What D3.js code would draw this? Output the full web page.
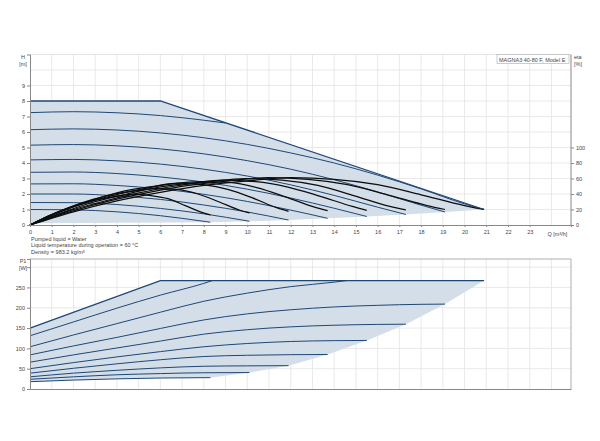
<!DOCTYPE html>
<html>
<head>
<meta charset="utf-8">
<script src="https://cdn.jsdelivr.net/npm/d3@7"></script>
<style>
  body { margin: 0; background: #fff; }
  svg text { font-family: "Liberation Sans", Arial, sans-serif; fill: #444; }
</style>
</head>
<body>
<svg></svg>
<script>
// Chart values
let title = 'MAGNA3 40-80 F, Model E';
let notes = ['Pumped liquid = Water', 'Liquid temperature during operation = 60 °C', 'Density = 983.2 kg/m³'];

let qTicks = d3.range(0, 24);
let hTicks = d3.range(0, 10);
let etaTicks = [0, 20, 40, 60, 80, 100];
let pTicks = [0, 50, 100, 150, 200, 250, 300];

// head curves, [Q m3/h, H m]
let headMax = [[0, 8], [6, 8], [20.9, 1.0]];
let headCurves = [
  [[0, 1.0], [2, 0.98], [4, 0.85], [6, 0.6], [7, 0.43], [8.3, 0.18]],
  [[0, 1.45], [2, 1.44], [4, 1.32], [6, 1.07], [8, 0.72], [10.1, 0.24]],
  [[0, 2.0], [2, 2.0], [4, 1.88], [6, 1.65], [8, 1.29], [10, 0.84], [11.9, 0.32]],
  [[0, 2.65], [2, 2.66], [4, 2.55], [6, 2.33], [8, 1.98], [10, 1.52], [12, 0.96], [13.7, 0.43]],
  [[0, 3.4], [2, 3.42], [4, 3.32], [6, 3.1], [8, 2.77], [10, 2.31], [12, 1.74], [14, 1.08], [15.5, 0.55]],
  [[0, 4.2], [2, 4.23], [4, 4.14], [6, 3.93], [8, 3.6], [10, 3.16], [12, 2.59], [14, 1.91], [16, 1.15], [17.3, 0.68]],
  [[0, 5.15], [2, 5.19], [4, 5.11], [6, 4.91], [8, 4.59], [10, 4.15], [12, 3.6], [14, 2.92], [16, 2.13], [18, 1.28], [19.1, 0.84]],
  [[0, 6.15], [2, 6.2], [4, 6.13], [6, 5.94], [8, 5.63], [10, 5.2], [12, 4.65], [14, 4.0], [16, 3.22], [18, 2.33], [20, 1.36], [20.9, 1.0]],
  [[0, 7.25], [2, 7.31], [4, 7.24], [6, 7.06], [8, 6.76], [9, 6.58]]
];
// lower edge of the head area, right to left
let headLowerEdge = [[20.9, 1.0], [19.1, 0.84], [17.3, 0.68], [15.5, 0.55], [13.7, 0.43], [11.9, 0.32], [10.1, 0.24], [8.3, 0.18], [4, 0.14], [0, 0.12]];

// efficiency curves, [Q m3/h, eta %]
let etaCurves = [
  [[0, 0], [0.79, 11], [1.59, 20], [2.38, 27], [3.18, 33], [3.97, 37], [4.76, 40], [5.56, 38], [6.35, 34], [7.15, 25], [7.94, 16], [8.3, 13]],
  [[0, 0], [0.97, 13], [1.93, 24], [2.9, 33], [3.86, 40], [4.83, 44], [5.8, 47], [6.76, 46], [7.73, 40], [8.69, 30], [9.66, 19], [10.1, 15.5]],
  [[0, 0], [1.14, 15], [2.28, 27], [3.42, 37], [4.55, 45], [5.69, 50], [6.83, 54], [7.97, 52], [9.1, 46], [10.24, 35], [11.38, 22], [11.9, 17.7]],
  [[0, 0], [1.31, 16], [2.62, 29], [3.93, 39], [5.24, 47], [6.55, 53], [7.86, 56], [9.17, 55], [10.48, 48], [11.79, 36], [13.1, 23], [13.7, 18.5]],
  [[0, 0], [1.48, 16], [2.97, 30], [4.45, 40], [5.94, 49], [7.42, 54], [8.9, 58], [10.39, 56], [11.87, 49], [13.36, 37], [14.84, 24], [15.5, 19]],
  [[0, 0], [1.66, 17], [3.31, 30], [4.97, 41], [6.62, 50], [8.28, 56], [9.93, 60], [11.59, 58], [13.25, 51], [14.9, 38], [16.56, 24], [17.3, 19.5]],
  [[0, 0], [1.83, 17], [3.66, 31], [5.48, 42], [7.31, 51], [9.14, 57], [10.97, 61], [12.8, 59], [14.62, 52], [16.45, 39], [18.28, 25], [19.1, 20]],
  [[0, 0], [2, 17], [4, 31], [6, 42], [8, 51], [10, 57], [12, 61], [14, 59], [16, 52], [18, 39], [20, 25], [20.9, 20]]
];

// power curves, [Q m3/h, P1 W]
let powerMax = [[0, 150], [6, 267], [20.9, 267]];
let powerCurves = [
  [[0, 18], [2, 22], [4, 25], [6, 27], [8.3, 28]],
  [[0, 24], [2, 30], [4, 35], [6, 38], [8, 40], [10.1, 40.5]],
  [[0, 30], [2, 39], [4, 46], [6, 52], [8, 56], [10, 57], [11.9, 57.5]],
  [[0, 39], [2, 51], [4, 62], [6, 72], [8, 80], [10, 83], [12, 84.5], [13.7, 85]],
  [[0, 50], [2, 65], [4, 79], [6, 92], [8, 104], [10, 112], [12, 117], [14, 119], [15.5, 119.5]],
  [[0, 66], [2, 84], [4, 101], [6, 118], [8, 135], [10, 146], [12, 153], [14, 157], [16, 159], [17.3, 159.5]],
  [[0, 84], [2, 106], [4, 127], [6, 149], [8, 170], [10, 185], [12, 195], [14, 202], [16, 206], [18, 208.5], [19.1, 209]],
  [[0, 104], [2, 133], [4, 161], [6, 189], [8, 216], [10, 236], [12, 252], [14, 263], [14.6, 267]],
  [[0, 131], [2, 165], [4, 199], [6, 231], [8, 260], [8.4, 267]]
];
let powerLowerEdge = [[20.9, 267], [19.1, 209], [17.3, 159.5], [15.5, 119.5], [13.7, 85], [11.9, 57.5], [10.1, 40.5], [8.3, 28], [6, 27], [4, 25], [2, 22], [0, 18]];

// Layout
let width = 600, height = 441;
let svg = d3.select('svg').attr('width', width).attr('height', height);

let x = d3.scaleLinear().domain([0, 24.9]).range([30, 571]);
let yH = d3.scaleLinear().domain([0, 11]).range([225, 54.5]);
let yEta = d3.scaleLinear().domain([0, 100]).range([225, 147.5]);
let yP = d3.scaleLinear().domain([0, 320]).range([389, 259]);

let fillColor = '#d3dee9';
let blue = '#1f4775';

function grid(g, yScale, yValues, top, bottom) {
  g.selectAll('.vg').data(d3.range(1, 25)).enter().append('line')
    .attr('x1', d => x(d)).attr('x2', d => x(d))
    .attr('y1', top).attr('y2', bottom)
    .attr('stroke', '#e3e3e3').attr('stroke-width', 0.8);
  g.selectAll('.hg').data(yValues).enter().append('line')
    .attr('x1', x(0)).attr('x2', x(24.9))
    .attr('y1', d => yScale(d)).attr('y2', d => yScale(d))
    .attr('stroke', '#e3e3e3').attr('stroke-width', 0.8);
}

function styleAxis(g) {
  g.selectAll('path.domain').attr('stroke', '#888');
  g.selectAll('.tick line').attr('stroke', '#888');
  g.selectAll('.tick text').attr('font-size', 5.5).attr('fill', '#555');
}

function drawHeadChart() {
  let g = svg.append('g');
  grid(g, yH, d3.range(1, 11), 54.5, 225);
  // top border
  g.append('line').attr('x1', x(0)).attr('x2', x(24.9)).attr('y1', 54.5).attr('y2', 54.5)
    .attr('stroke', '#ddd').attr('stroke-width', 0.8);

  let line = d3.line().x(d => x(d[0])).y(d => yH(d[1])).curve(d3.curveMonotoneX);
  let area = headMax.concat(headLowerEdge);
  g.append('path')
    .attr('d', d3.line().x(d => x(d[0])).y(d => yH(d[1]))(area) + 'Z')
    .attr('fill', fillColor);

  g.selectAll('.hc').data(headCurves).enter().append('path')
    .attr('d', line).attr('fill', 'none')
    .attr('stroke', blue).attr('stroke-width', 1);

  let etaLine = d3.line().x(d => x(d[0])).y(d => yEta(d[1])).curve(d3.curveMonotoneX);
  g.selectAll('.ec').data(etaCurves).enter().append('path')
    .attr('d', etaLine).attr('fill', 'none')
    .attr('stroke', '#0d0d0d').attr('stroke-width', 1.25);

  g.append('path').attr('d', d3.line().x(d => x(d[0])).y(d => yH(d[1]))(headMax))
    .attr('fill', 'none').attr('stroke', blue).attr('stroke-width', 1.3);

  // axes
  let left = g.append('g').attr('transform', `translate(${x(0)},0)`)
    .call(d3.axisLeft(yH).tickValues(hTicks).tickSize(3).tickPadding(2));
  styleAxis(left);

  let bottom = g.append('g').attr('transform', `translate(0,${yH(0)})`)
    .call(d3.axisBottom(x).tickValues(qTicks).tickSize(2).tickPadding(3));
  styleAxis(bottom);

  g.append('line').attr('x1', x(24.9)).attr('x2', x(24.9)).attr('y1', 54.5).attr('y2', 225)
    .attr('stroke', '#888');
  let right = g.append('g').attr('transform', `translate(${x(24.9)},0)`)
    .call(d3.axisRight(yEta).tickValues(etaTicks).tickSize(3).tickPadding(2));
  styleAxis(right);
  right.select('path.domain').remove();

  g.append('text').attr('x', x(24) + 6).attr('y', 235.5).attr('text-anchor', 'middle')
    .attr('font-size', 5.5).attr('fill', '#555').text('Q [m³/h]');
  g.append('text').attr('x', 23).attr('y', 59).attr('text-anchor', 'middle')
    .attr('font-size', 5.5).text('H');
  g.append('text').attr('x', 23).attr('y', 66).attr('text-anchor', 'middle')
    .attr('font-size', 5.5).text('[m]');
  g.append('text').attr('x', 574).attr('y', 59)
    .attr('font-size', 5.5).text('eta');
  g.append('text').attr('x', 574).attr('y', 65.5)
    .attr('font-size', 5.5).text('[%]');

  g.append('rect').attr('x', 497).attr('y', 54.5).attr('width', 72).attr('height', 9)
    .attr('fill', '#fff').attr('stroke', '#aaa').attr('stroke-width', 0.6);
  g.append('text').attr('x', 499).attr('y', 61.5).attr('font-size', 5.5).text(title);

  g.selectAll('.note').data(notes).enter().append('text')
    .attr('x', 31).attr('y', (d, i) => 240.5 + i * 6.6)
    .attr('font-size', 5.5).attr('fill', '#333').text(d => d);
}

function drawPowerChart() {
  let g = svg.append('g');
  grid(g, yP, [50, 100, 150, 200, 250, 300], 259, 389);

  let line = d3.line().x(d => x(d[0])).y(d => yP(d[1])).curve(d3.curveMonotoneX);
  let area = powerMax.concat(powerLowerEdge);
  g.append('path')
    .attr('d', d3.line().x(d => x(d[0])).y(d => yP(d[1]))(area) + 'Z')
    .attr('fill', fillColor);

  g.selectAll('.pc').data(powerCurves).enter().append('path')
    .attr('d', line).attr('fill', 'none')
    .attr('stroke', blue).attr('stroke-width', 1);

  g.append('path').attr('d', d3.line().x(d => x(d[0])).y(d => yP(d[1]))(powerMax))
    .attr('fill', 'none').attr('stroke', blue).attr('stroke-width', 1.3);

  // frame
  g.append('path')
    .attr('d', `M${x(0)},259H${x(24.9)}V${yP(0)}`)
    .attr('fill', 'none').attr('stroke', '#999').attr('stroke-width', 0.8);

  let left = g.append('g').attr('transform', `translate(${x(0)},0)`)
    .call(d3.axisLeft(yP).tickValues(pTicks).tickSize(3).tickPadding(2)
      .tickFormat(d => d === 300 ? '' : d));
  styleAxis(left);

  let bottom = g.append('g').attr('transform', `translate(0,${yP(0)})`)
    .call(d3.axisBottom(x).tickValues(qTicks).tickSize(0).tickFormat(''));
  styleAxis(bottom);

  g.append('text').attr('x', 23).attr('y', 263).attr('text-anchor', 'middle')
    .attr('font-size', 5.5).text('P1');
  g.append('text').attr('x', 23).attr('y', 269.5).attr('text-anchor', 'middle')
    .attr('font-size', 5.5).text('[W]');
}

drawHeadChart();
drawPowerChart();
</script>
</body>
</html>
